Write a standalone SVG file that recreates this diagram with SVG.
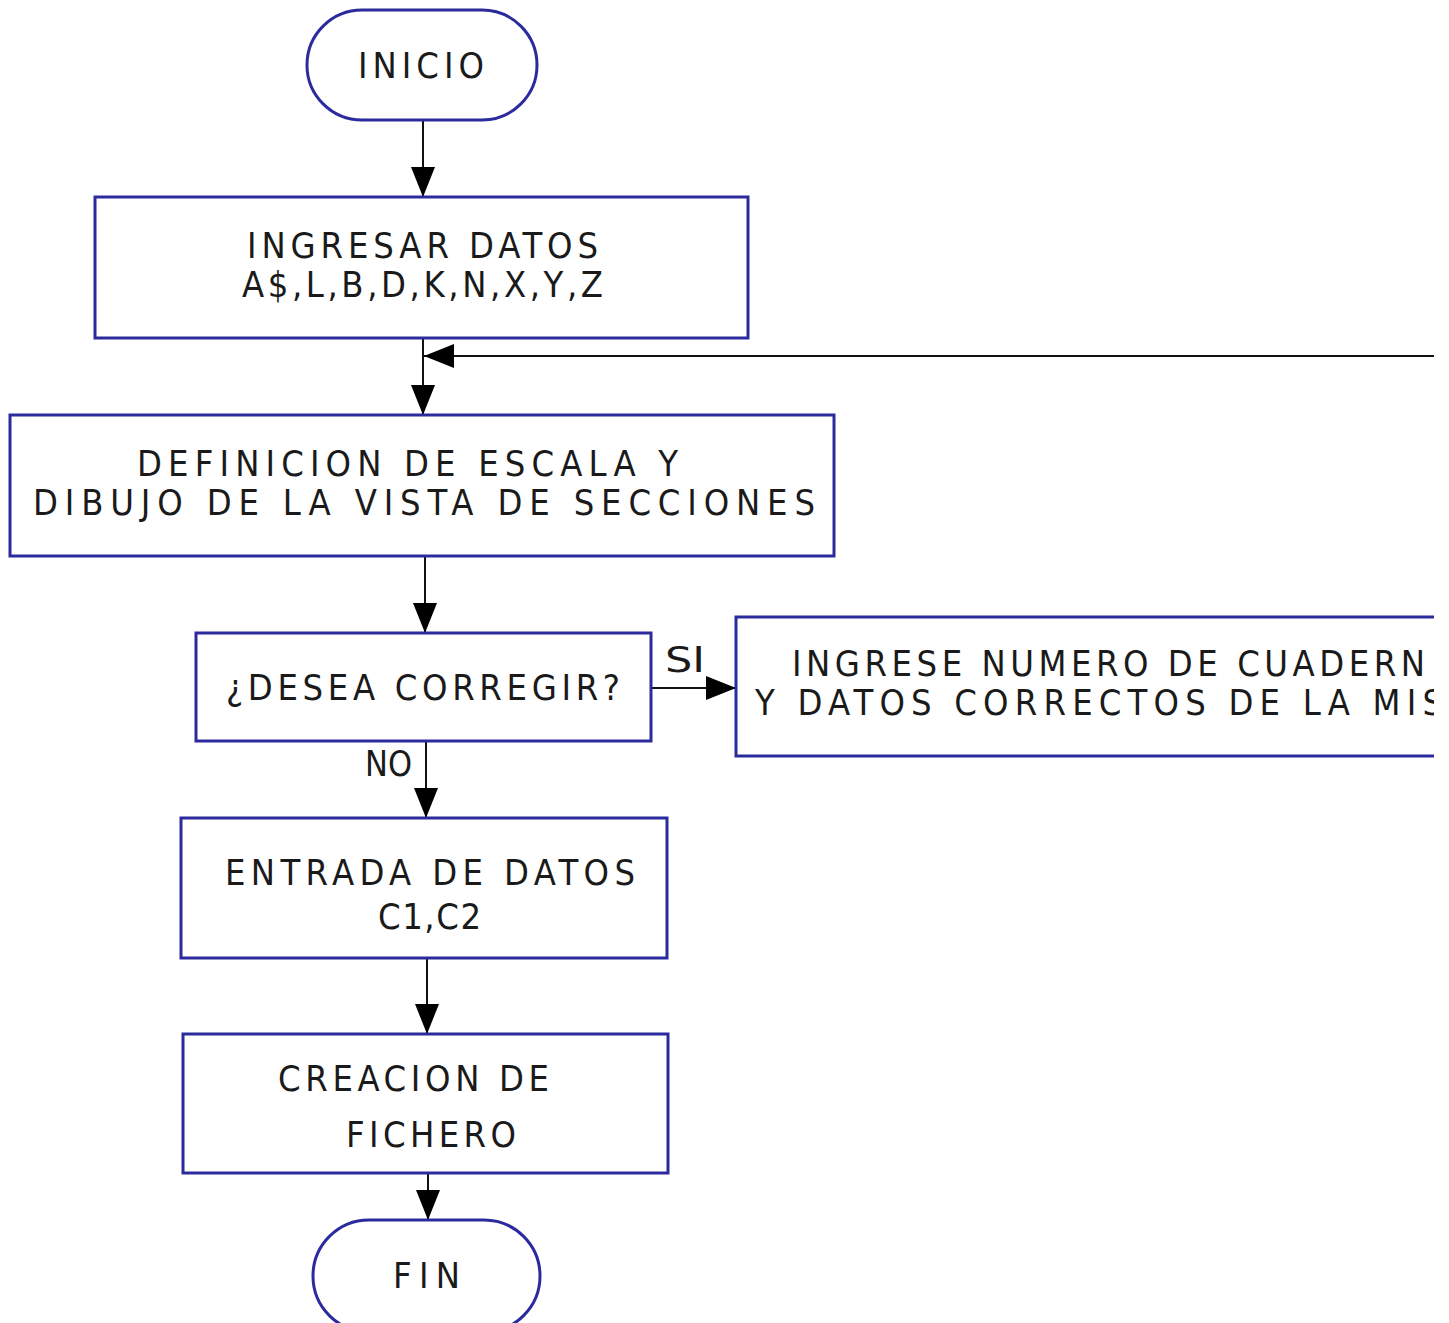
<svg xmlns="http://www.w3.org/2000/svg" width="1449" height="1323" viewBox="0 0 1449 1323">
<style>
.n{fill:#fff;stroke:#2b2b9e;stroke-width:3}
.t{font-family:"Liberation Sans Narrow","DejaVu Sans Condensed","Liberation Sans",sans-serif;font-size:36px;fill:#1a1a1a}
.c{stroke:#111;stroke-width:2;fill:none}
</style>
<defs>
<marker id="ah" viewBox="0 0 30 24" refX="30" refY="12" markerWidth="30" markerHeight="24" markerUnits="userSpaceOnUse" orient="auto"><path d="M0,0 L30,12 L0,24 Z" fill="#000"/></marker>
<clipPath id="cp"><rect x="0" y="0" width="1434" height="1323"/></clipPath>
</defs>
<g id="connectors">
<line class="c" x1="423" y1="120" x2="423" y2="197" marker-end="url(#ah)"/>
<line class="c" x1="423" y1="338" x2="423" y2="415" marker-end="url(#ah)"/>
<line class="c" x1="1434" y1="356" x2="424" y2="356" marker-end="url(#ah)"/>
<line class="c" x1="425" y1="556" x2="425" y2="633" marker-end="url(#ah)"/>
<line class="c" x1="651" y1="688" x2="736" y2="688" marker-end="url(#ah)"/>
<line class="c" x1="426" y1="741" x2="426" y2="818" marker-end="url(#ah)"/>
<line class="c" x1="427" y1="958" x2="427" y2="1034" marker-end="url(#ah)"/>
<line class="c" x1="428" y1="1173" x2="428" y2="1220" marker-end="url(#ah)"/>
<text class="t" x="665" y="672" textLength="40" lengthAdjust="spacingAndGlyphs">SI</text>
<text class="t" x="365" y="776" textLength="47" lengthAdjust="spacingAndGlyphs">NO</text>
</g>
<g id="inicio">
<rect class="n" x="307" y="10" width="230" height="110" rx="55"/>
<text class="t" x="358" y="78" textLength="126" lengthAdjust="spacing">INICIO</text>
</g>
<g id="ingresar">
<rect class="n" x="95" y="197" width="653" height="141"/>
<text class="t" x="247" y="258" textLength="351" lengthAdjust="spacing">INGRESAR  DATOS</text>
<text class="t" x="242" y="297" textLength="361" lengthAdjust="spacing">A$,L,B,D,K,N,X,Y,Z</text>
</g>
<g id="definicion">
<rect class="n" x="10" y="415" width="824" height="141"/>
<text class="t" x="137" y="476" textLength="541" lengthAdjust="spacing">DEFINICION  DE  ESCALA  Y</text>
<text class="t" x="33" y="515" textLength="782" lengthAdjust="spacing">DIBUJO  DE  LA  VISTA  DE  SECCIONES</text>
</g>
<g id="corregir">
<rect class="n" x="196" y="633" width="455" height="108"/>
<text class="t" x="226" y="700" textLength="394" lengthAdjust="spacing">¿DESEA  CORREGIR?</text>
</g>
<g id="ingrese">
<path class="n" d="M1434,617 H736 V756 H1434" fill="none"/>
<g clip-path="url(#cp)">
<text class="t" x="792" y="676" textLength="633" lengthAdjust="spacing">INGRESE  NUMERO  DE  CUADERN</text>
<text class="t" x="755" y="715" textLength="688" lengthAdjust="spacing">Y  DATOS  CORRECTOS  DE  LA  MIS</text>
</g>
</g>
<g id="entrada">
<rect class="n" x="181" y="818" width="486" height="140"/>
<text class="t" x="225" y="885" textLength="410" lengthAdjust="spacing">ENTRADA  DE  DATOS</text>
<text class="t" x="378" y="929" textLength="103" lengthAdjust="spacing">C1,C2</text>
</g>
<g id="creacion">
<rect class="n" x="183" y="1034" width="485" height="139"/>
<text class="t" x="278" y="1091" textLength="271" lengthAdjust="spacing">CREACION  DE</text>
<text class="t" x="346" y="1147" textLength="170" lengthAdjust="spacing">FICHERO</text>
</g>
<g id="fin">
<rect class="n" x="313" y="1220" width="227" height="112" rx="56"/>
<text class="t" x="393" y="1288" textLength="67" lengthAdjust="spacing">FIN</text>
</g>
</svg>
